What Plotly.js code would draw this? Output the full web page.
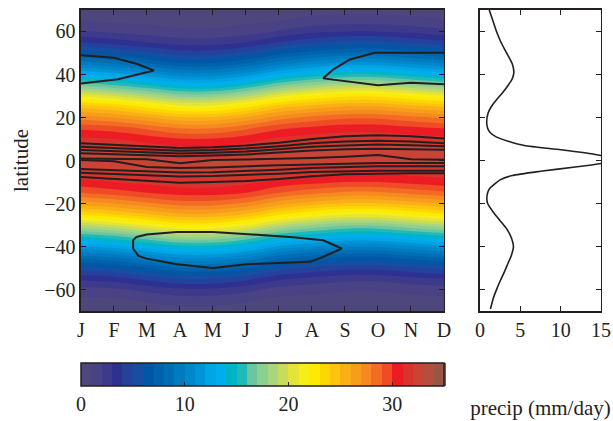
<!DOCTYPE html>
<html>
<head>
<meta charset="utf-8">
<script src="https://cdn.plot.ly/plotly-3.0.1.min.js"></script>
<style>html,body{margin:0;padding:0;background:#fff;}#chart{width:613px;height:421px;}</style>
</head>
<body>
<div id="chart"></div>
<script>
// ---- data ----
const months = [1,2,3,4,5,6,7,8,9,10,11,12];
const monthLabels = ['J','F','M','A','M','J','J','A','S','O','N','D'];
const latitudes = [-70,-65,-60,-55,-50,-45,-40,-35,-30,-25,-20,-15,-10,-5,0,5,10,15,20,25,30,35,40,45,50,55,60,65,70];
// field values (rows = latitude, columns = month)
const fieldValues = [
 [0.3,0.3,0.5,0.6,0.6,0.5,0.3,0.2,0.2,0.2,0.2,0.2],
 [0.7,0.8,1.1,1.4,1.4,1.1,0.7,0.6,0.5,0.5,0.6,0.7],
 [1.6,1.8,2.3,2.8,2.8,2.3,1.6,1.3,1.1,1.1,1.3,1.5],
 [3.2,3.5,4.3,5.0,5.0,4.3,3.2,2.7,2.3,2.3,2.7,3.0],
 [5.5,6.0,6.9,7.8,7.8,6.9,5.5,4.8,4.3,4.3,4.8,5.3],
 [8.4,9.0,10.1,11.1,11.1,10.1,8.4,7.5,6.9,6.9,7.5,8.1],
 [11.8,12.5,13.6,14.6,14.6,13.6,11.8,10.8,10.1,10.1,10.8,11.5],
 [15.3,16.0,17.2,18.4,18.4,17.2,15.3,14.3,13.6,13.6,14.3,15.0],
 [19.2,20.0,21.2,22.4,22.4,21.2,19.2,18.0,17.2,17.2,18.0,18.8],
 [23.2,24.0,24.9,25.8,25.8,24.9,23.2,22.0,21.2,21.2,22.0,22.8],
 [26.4,27.0,27.8,28.5,28.5,27.8,26.4,25.5,24.9,24.9,25.5,26.1],
 [29.0,29.5,30.0,30.4,30.4,30.0,29.0,28.3,27.8,27.8,28.3,28.8],
 [30.7,31.0,31.3,31.6,31.6,31.3,30.7,30.3,30.0,30.0,30.3,30.6],
 [31.8,32.0,32.2,32.3,32.3,32.2,31.8,31.5,31.3,31.3,31.5,31.7],
 [32.4,32.5,32.4,32.2,32.2,32.4,32.4,32.3,32.2,32.2,32.3,32.4],
 [32.1,32.0,31.7,31.4,31.4,31.7,32.1,32.3,32.4,32.4,32.3,32.2],
 [31.2,31.0,30.6,30.1,30.1,30.6,31.2,31.5,31.7,31.7,31.5,31.3],
 [29.8,29.5,28.8,28.0,28.0,28.8,29.8,30.3,30.6,30.6,30.3,30.0],
 [27.5,27.0,26.1,25.2,25.2,26.1,27.5,28.3,28.8,28.8,28.3,27.8],
 [24.6,24.0,22.8,21.6,21.6,22.8,24.6,25.5,26.1,26.1,25.5,24.9],
 [20.8,20.0,18.8,17.6,17.6,18.8,20.8,22.0,22.8,22.8,22.0,21.2],
 [16.8,16.0,15.0,13.9,13.9,15.0,16.8,18.0,18.8,18.8,18.0,17.2],
 [13.2,12.5,11.5,10.4,10.4,11.5,13.2,14.3,15.0,15.0,14.3,13.6],
 [9.7,9.0,8.1,7.2,7.2,8.1,9.7,10.8,11.5,11.5,10.8,10.1],
 [6.6,6.0,5.3,4.5,4.5,5.3,6.6,7.5,8.1,8.1,7.5,6.9],
 [4.0,3.5,3.0,2.5,2.5,3.0,4.0,4.8,5.3,5.3,4.8,4.3],
 [2.1,1.8,1.5,1.2,1.2,1.5,2.1,2.7,3.0,3.0,2.7,2.3],
 [1.0,0.8,0.7,0.5,0.5,0.7,1.0,1.3,1.5,1.5,1.3,1.1],
 [0.4,0.3,0.2,0.2,0.2,0.2,0.4,0.6,0.7,0.7,0.6,0.5]
];
// precipitation isolines: latitude of each line per month
const isoN1 = [8.0,7.3,6.5,5.8,6.2,7.0,8.3,10.0,11.3,11.8,11.3,10.3];
const isoN2 = [6.4,5.8,5.2,4.6,4.9,5.6,6.7,8.0,8.8,9.2,8.8,8.0];
const isoN3 = [4.9,4.4,3.8,3.3,3.6,4.2,5.2,6.4,7.0,7.4,7.1,6.6];
const isoN4 = [3.4,3.0,2.5,2.0,2.3,2.8,3.7,4.7,5.2,5.5,5.3,5.0];
const isoA  = [0.9,0.9,0.6,-1.3,0.3,0.5,0.8,1.2,1.8,2.6,0.6,0.4];
const isoB  = [0.2,-0.3,-3.0,-3.5,-3.2,-2.6,-2.2,-1.8,-1.4,-1.2,-1.1,-1.1];
const isoS1 = [-3.9,-4.5,-5.2,-5.6,-5.4,-5.0,-4.3,-3.5,-3.0,-2.7,-2.6,-2.6];
const isoS2 = [-5.7,-6.3,-7.0,-7.4,-7.2,-6.8,-6.1,-5.3,-4.9,-4.7,-4.7,-4.7];
const isoS3 = [-7.7,-8.5,-9.5,-10.3,-10.0,-9.5,-8.6,-7.3,-6.4,-6.0,-5.9,-5.9];
// closed mid-latitude precipitation isolines (month, latitude)
const nhWestMonth = [1,2,2.68,3.21,2.12,1];
const nhWestLat   = [48.9,47.8,45.0,41.9,37.8,35.8];
const nhEastMonth = [12,9.9,9.15,8.65,8.34,10,11,12];
const nhEastLat   = [50.1,50.1,47.0,42.4,38.2,35.0,36.2,35.5];
const shMonth = [2.68,2.58,2.58,2.74,2.99,3.9,5.0,6.02,7.94,8.34,8.9,8.34,7.33,5.0,3.9,2.99,2.68];
const shLat   = [-35.5,-37.1,-40.9,-44.3,-45.6,-48.2,-49.9,-48.2,-47.1,-44.8,-40.9,-37.1,-35.5,-33.2,-33.2,-34.4,-35.5];
// annual-mean precipitation profile
const precipLat = [70,65,60,55,50,45,41,38,35,32,28,25,22,18,15,13,11,9,7,5,3,1,-1,-3,-5,-7,-9,-11,-13,-15,-18,-20,-24,-28,-32,-36,-40,-44,-48,-52,-56,-60,-64,-69];
const precipVal = [1.15,1.6,2.05,2.6,3.3,4.0,4.2,4.0,3.5,2.9,2.0,1.4,1.0,0.83,0.95,1.25,2.0,3.5,5.5,10,14,16.5,15.5,11.8,7.5,4.0,2.5,1.8,1.2,0.95,0.85,0.95,1.65,2.5,3.35,3.9,4.15,3.9,3.45,3.0,2.5,2.05,1.65,1.3];
const colorTicks = [0,10,20,30];
const latTicks = [-60,-40,-20,0,20,40,60];
const precipTicks = [0,5,10,15];

// ---- styles ----
const ink = '#231f20';
const serif = 'Liberation Serif, Times New Roman, serif';
const fs = 20;
const fsTitle = 21;
const scale = [
 [0,'#514a7b'],[0.057,'#463f88'],[0.1,'#2e3192'],[0.143,'#1f4aa0'],[0.186,'#0057a5'],
 [0.229,'#0068b0'],[0.286,'#0080c6'],[0.329,'#0094d6'],[0.357,'#00a6e4'],[0.386,'#00aeef'],
 [0.414,'#00b4c8'],[0.443,'#20bab8'],[0.471,'#6ac6a0'],[0.5,'#8ccf90'],[0.543,'#b8d878'],
 [0.571,'#d7df3c'],[0.6,'#eee832'],[0.629,'#fff200'],[0.657,'#fde100'],[0.7,'#fcc30f'],
 [0.743,'#f9a51a'],[0.786,'#f68a20'],[0.814,'#f26c23'],[0.843,'#ee4b26'],[0.871,'#ed1c24'],
 [0.9,'#d9342b'],[0.943,'#c24a3a'],[1,'#8c5a48']
];

const traces = [{
  type:'contour', x:months, y:latitudes, z:fieldValues,
  colorscale:scale, zmin:0, zmax:35, zauto:false,
  autocontour:false, contours:{start:0,end:35,size:1,coloring:'fill',showlines:false},
  line:{width:0, smoothing:1}, hoverinfo:'skip',
  colorbar:{orientation:'h', x:0.4282, xanchor:'center', y:0.133, yanchor:'top',
    len:363, lenmode:'pixels', thickness:23, xpad:0, ypad:0,
    outlinewidth:1.5, outlinecolor:ink, tickmode:'array', tickvals:colorTicks,
    ticks:'inside', ticklen:4, tickcolor:ink, tickwidth:1,
    tickfont:{family:serif,size:fs,color:ink}}
}];
const lineStyle = {color:ink, width:2};
[isoN1,isoN2,isoN3,isoN4,isoA,isoB,isoS1,isoS2,isoS3].forEach(l => traces.push({
  type:'scatter', mode:'lines', x:months, y:l, line:lineStyle, hoverinfo:'skip', showlegend:false, xaxis:'x', yaxis:'y'
}));
[[nhWestMonth,nhWestLat],[nhEastMonth,nhEastLat],[shMonth,shLat]].forEach(p => traces.push({
  type:'scatter', mode:'lines', x:p[0], y:p[1], line:lineStyle, hoverinfo:'skip', showlegend:false, xaxis:'x', yaxis:'y'
}));
traces.push({type:'scatter', mode:'lines', x:precipVal, y:precipLat, line:{color:ink,width:1.6,shape:'spline',smoothing:0.6},
  hoverinfo:'skip', showlegend:false, xaxis:'x2', yaxis:'y2'});

const axBase = {showline:true, linecolor:ink, linewidth:1.5, mirror:'ticks', ticks:'inside', ticklen:5,
  tickcolor:ink, tickwidth:1, showgrid:false, zeroline:false, tickfont:{family:serif,size:fs,color:ink}};

const layout = {
  width:613, height:421, margin:{l:0,r:0,t:0,b:0}, paper_bgcolor:'#fff', plot_bgcolor:'#fff',
  showlegend:false, font:{family:serif,size:fs,color:ink},
  xaxis:Object.assign({}, axBase, {domain:[0.1321,0.7243], range:[1,12], tickmode:'array', tickvals:months, ticktext:monthLabels, anchor:'y'}),
  yaxis:Object.assign({}, axBase, {domain:[0.2575,0.9762], range:[-70,70], tickmode:'array', tickvals:latTicks, anchor:'x',
    title:{text:'latitude', font:{family:serif,size:fsTitle,color:ink}, standoff:10}}),
  xaxis2:Object.assign({}, axBase, {domain:[0.783,0.9804], range:[0,15], tickmode:'array', tickvals:precipTicks, anchor:'y2',
    title:{text:'precip (mm/day)', font:{family:serif,size:fsTitle,color:ink}, standoff:60}}),
  yaxis2:Object.assign({}, axBase, {domain:[0.2575,0.9762], range:[-70,70], tickmode:'array', tickvals:latTicks, showticklabels:false, anchor:'x2'})
};
Plotly.newPlot('chart', traces, layout, {staticPlot:true, displayModeBar:false});
</script>
</body>
</html>
